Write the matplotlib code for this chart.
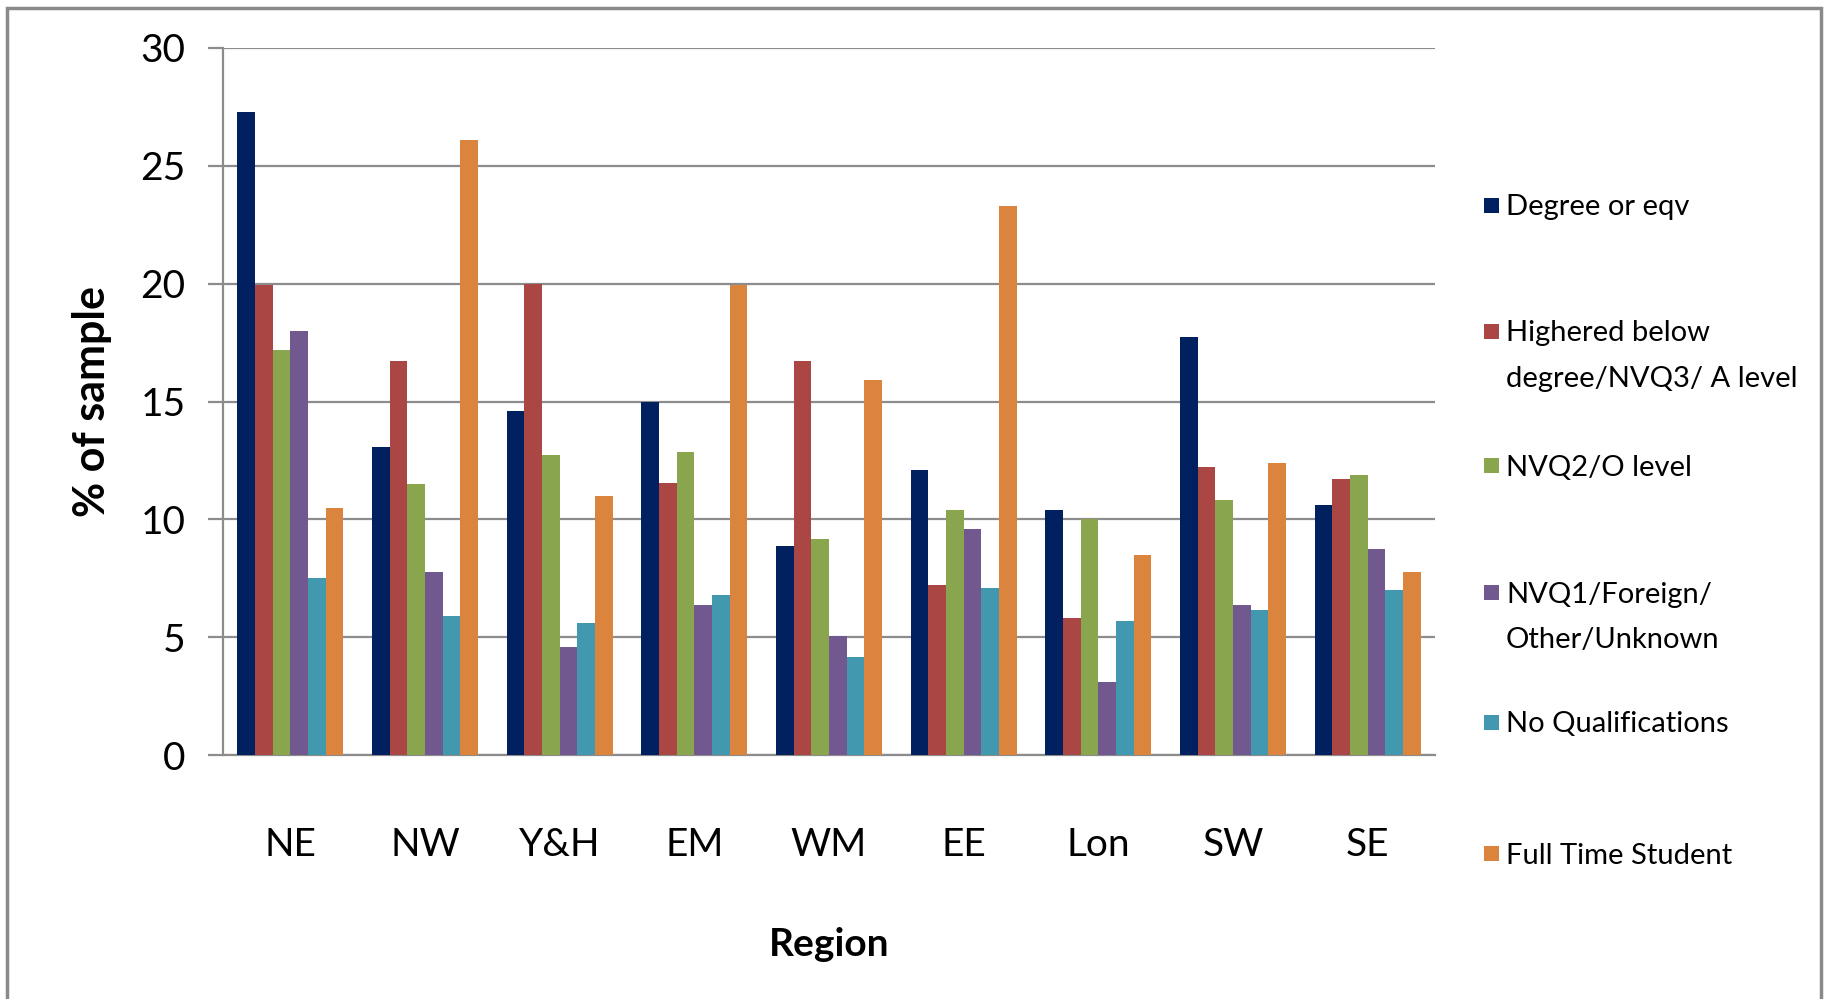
#bar chart of qualification mix by region
import numpy as np
import matplotlib
matplotlib.use('Agg')
import matplotlib.pyplot as plt
from matplotlib.patches import Rectangle

regions = ['NE', 'NW', 'Y&H', 'EM', 'WM', 'EE', 'Lon', 'SW', 'SE']
series_names = ['Degree or eqv',
                'Highered below\ndegree/NVQ3/ A level',
                'NVQ2/O level',
                'NVQ1/Foreign/\nOther/Unknown',
                'No Qualifications',
                'Full Time Student']
degree = [27.3, 13.05, 14.6, 15.0, 8.85, 12.1, 10.4, 17.75, 10.6]
highered = [19.95, 16.7, 20.0, 11.55, 16.7, 7.2, 5.8, 12.2, 11.7]
nvq2 = [17.2, 11.5, 12.75, 12.85, 9.15, 10.4, 10.0, 10.8, 11.9]
nvq1 = [18.0, 7.75, 4.6, 6.35, 5.05, 9.6, 3.1, 6.35, 8.75]
no_qual = [7.5, 5.9, 5.6, 6.8, 4.15, 7.1, 5.7, 6.15, 7.0]
student = [10.5, 26.1, 11.0, 19.95, 15.9, 23.3, 8.5, 12.4, 7.75]
colors = ['#002060', '#AA4643', '#89A54E', '#71588F', '#4198AF', '#DB843D']

plt.rcParams['font.family'] = ['Lato', 'DejaVu Sans']

W, H = 1825, 999
fig = plt.figure(figsize=(W/100, H/100), dpi=100)
ax = fig.add_axes([223/W, 1-755/H, (1435-223)/W, (755-48)/H])

x = np.arange(len(regions))
w = 0.131
all_series = [degree, highered, nvq2, nvq1, no_qual, student]
for i, vals in enumerate(all_series):
    ax.bar(x + (i - 2.5) * w, vals, w, color=colors[i], label=series_names[i], zorder=3)

ax.set_xlim(-0.5, len(regions) - 0.5)
ax.set_ylim(0, 30)
ax.set_yticks(range(0, 31, 5))
ax.set_xticks(x)
ax.set_xticklabels(regions)
ax.yaxis.grid(True, color='#8c8c8c', linewidth=1.6, zorder=0)
for s in ['top', 'right']:
    ax.spines[s].set_visible(False)
for s in ['left', 'bottom']:
    ax.spines[s].set_color('#8c8c8c')
    ax.spines[s].set_linewidth(1.6)
ax.tick_params(axis='y', length=11, width=1.6, color='#8c8c8c', pad=16, labelsize=28)
ax.tick_params(axis='x', length=0, pad=52, labelsize=28)
ax.set_xlabel('Region', fontsize=28, fontweight='bold', labelpad=46)
ax.set_ylabel('% of sample', fontsize=31, fontweight='bold', labelpad=20)

# legend laid out by hand, Excel style: marker level with the first text line
legend_rows_px = [205, 331, 465, 592, 722, 853]
line_step = 46
for name, col, yc in zip(series_names, colors, legend_rows_px):
    fig.add_artist(Rectangle((1484/W, 1-(yc+7.5)/H), 15/W, 15/H,
                             transform=fig.transFigure, facecolor=col, edgecolor='none'))
    for k, line in enumerate(name.split('\n')):
        fig.text(1506/W, 1-(yc+10.5+k*line_step)/H, line, fontsize=21,
                 va='baseline', ha='left')

fig.add_artist(Rectangle((7/W, -0.05), (1821-7)/W, 1.05-8/H,
                         transform=fig.transFigure, fill=False,
                         edgecolor='#8a8a8a', linewidth=2.5))

fig.savefig('out.png', dpi=100)
